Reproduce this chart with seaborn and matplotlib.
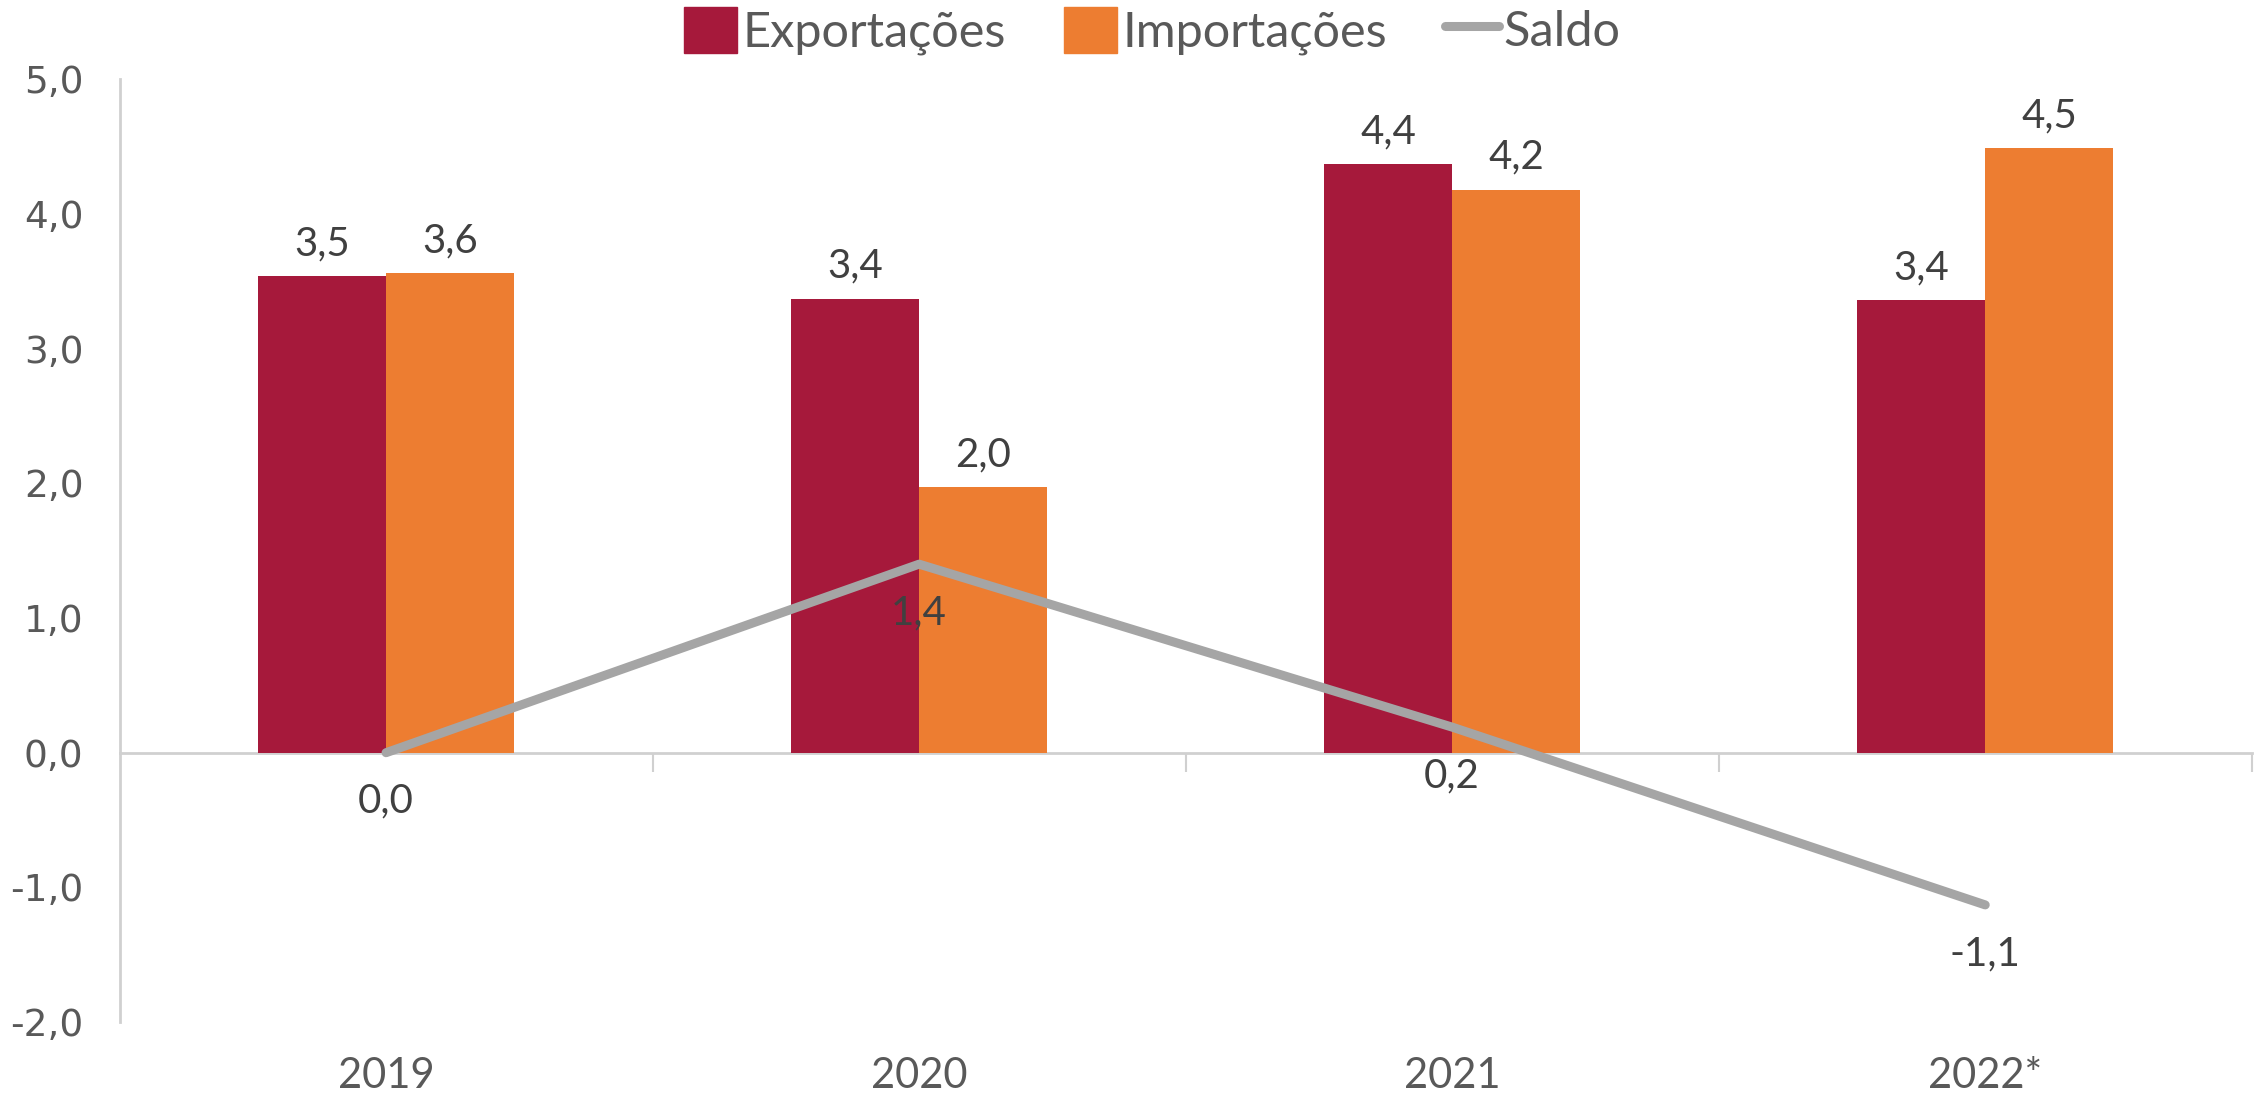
import numpy as np
import pandas as pd
import matplotlib.pyplot as plt
import seaborn as sns
from matplotlib.patches import Patch
from matplotlib.lines import Line2D

# Dados
anos = ['2019', '2020', '2021', '2022*']
exportacoes = [3.54, 3.37, 4.37, 3.36]
importacoes = [3.56, 1.97, 4.18, 4.49]
saldo = [0.0, 1.40, 0.19, -1.13]
series = ['Exportações', 'Importações']

cor_exp = '#A6193B'
cor_imp = '#ED7D31'
cor_saldo = '#A5A5A5'

df = pd.DataFrame({
    'ano': anos * 2,
    'serie': [series[0]] * len(anos) + [series[1]] * len(anos),
    'valor': exportacoes + importacoes,
})

sns.set_style('white')
plt.rcParams['font.family'] = ['Lato', 'DejaVu Sans']

fig = plt.figure(figsize=(22.59, 10.97), dpi=100)
ax = fig.add_axes([0.0529, 0.0683, 0.9439, 0.8594])

sns.barplot(data=df, x='ano', y='valor', hue='serie', order=anos, hue_order=series,
            palette=[cor_exp, cor_imp], saturation=1, width=0.48, linewidth=0,
            legend=False, ax=ax)

fmt = lambda v: f'{v:.1f}'.replace('.', ',')
for cont in ax.containers:
    ax.bar_label(cont, labels=[fmt(b.get_height()) for b in cont], padding=10,
                 fontsize=29, color='#404040')

# Linha do saldo
xs = np.arange(len(anos))
sns.lineplot(x=xs, y=saldo, ax=ax, color=cor_saldo, linewidth=6.5,
             solid_capstyle='round', legend=False)
for x, v in zip(xs, saldo):
    ax.annotate(fmt(v), (x, v), xytext=(0, -35), textcoords='offset points',
                ha='center', va='center', fontsize=29, color='#404040')

ax.set_xlim(-0.5, len(anos) - 0.5)
ax.set_ylim(-2, 5)
ax.set_yticks(np.arange(-2, 6, 1))
ax.set_yticklabels([fmt(v) for v in np.arange(-2, 6, 1)], family='DejaVu Sans',
                   fontsize=27, color='#595959')
ax.tick_params(axis='y', direction='in', length=12, width=1.5, color='#D0D0D0', pad=26)
ax.tick_params(axis='x', length=0, labelsize=30, labelcolor='#595959', pad=25)
ax.set_xlabel('')
ax.set_ylabel('')

for s in ['top', 'right', 'bottom']:
    ax.spines[s].set_visible(False)
ax.spines['left'].set_color('#D0D0D0')
ax.spines['left'].set_linewidth(2)

# Eixo horizontal no zero
eixo0 = ax.secondary_xaxis(2 / 7)
eixo0.set_xticks(np.arange(len(anos)) + 0.5)
eixo0.set_xticklabels([])
eixo0.tick_params(direction='out', length=14, width=1.5, color='#D0D0D0')
eixo0.spines['bottom'].set_color('#D0D0D0')
eixo0.spines['bottom'].set_linewidth(2)

handles = [Patch(color=cor_exp), Patch(color=cor_imp),
           Line2D([0], [0], color=cor_saldo, linewidth=6.5, solid_capstyle='round')]
fig.legend(handles, series + ['Saldo'], loc='center', bbox_to_anchor=(0.51, 0.972),
           ncol=3, frameon=False, fontsize=35, labelcolor='#595959',
           handlelength=1.1, handleheight=1.1, handletextpad=0.1, columnspacing=1.2)

fig.savefig('out.png', dpi=100)
